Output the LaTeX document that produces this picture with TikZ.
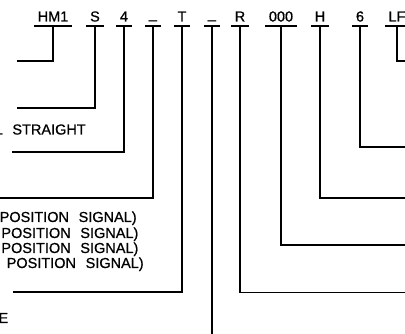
\documentclass[tikz,border=0pt]{standalone}
\usepackage{fontspec}
\setmainfont{Liberation Sans}[WordSpace=2.4,FakeBold=0.8]

\begin{document}
\begin{tikzpicture}[x=1pt,y=-1pt,line width=1.4pt,
    code/.style={anchor=base,inner xsep=3pt,inner ysep=0pt,text depth=4pt,
      minimum width=14pt,font=\fontsize{14.5}{15}\selectfont},
    desc/.style={inner sep=0pt,font=\fontsize{14.5}{15}\selectfont}]
    \useasboundingbox (0,0) rectangle (405,334);
    % part number
    \node[code] (hm1) at (53,21.5) {HM1};
    \node[code] (s) at (95,21.5) {S};
    \node[code] (four) at (124,21.5) {4};
    \node[code] (us1) at (153,21.5) {\raisebox{3pt}{\_}};
    \node[code] (t) at (182,21.5) {T};
    \node[code] (us2) at (212,21.5) {\raisebox{3pt}{\_}};
    \node[code] (r) at (240,21.5) {R};
    \node[code] (zeros) at (281,21.5) {000};
    \node[code] (h) at (320,21.5) {H};
    \node[code] (six) at (360,21.5) {6};
    \node[code] (lf) at (397,21.5) {LF};
    \foreach \n in {hm1,s,four,us1,t,us2,r,zeros,h,six,lf}
        \draw (\n.south west) -- (\n.south east);
    % ends of the leader lines
    \coordinate (hm1end) at (17,61);
    \coordinate (send) at (17,108);
    \coordinate (fourend) at (12,152);
    \coordinate (us1end) at (-5,198);
    \coordinate (tend) at (13,292);
    \coordinate (us2end) at (212,340);
    \coordinate (rend) at (410,292.5);
    \coordinate (zerosend) at (410,245);
    \coordinate (hend) at (410,198);
    \coordinate (sixend) at (410,147);
    \coordinate (lfend) at (410,61);
    \draw (hm1.south) |- (hm1end);
    \draw (s.south) |- (send);
    \draw (four.south) |- (fourend);
    \draw (us1.south) |- (us1end);
    \draw (t.south) |- (tend);
    \draw (us2.south) -- (us2end);
    \draw (r.south) |- (rend);
    \draw (zeros.south) |- (zerosend);
    \draw (h.south) |- (hend);
    \draw (six.south) |- (sixend);
    \draw (lf.south) |- (lfend);
    % descriptions
    \node[desc,anchor=base west] (straight) at (-6,134.5) {L STRAIGHT};
    \node[desc,anchor=base west] (sig1) at (-1,222) {POSITION SIGNAL)};
    \node[desc,anchor=base west] (sig2) at (0.7,238) {POSITION SIGNAL)};
    \node[desc,anchor=base west] (sig3) at (0.7,253) {POSITION SIGNAL)};
    \node[desc,anchor=base west] (sig4) at (6,268) {POSITION SIGNAL)};
    \node[desc,anchor=base east] (tail) at (9,323) {E};
\end{tikzpicture}
\end{document}
